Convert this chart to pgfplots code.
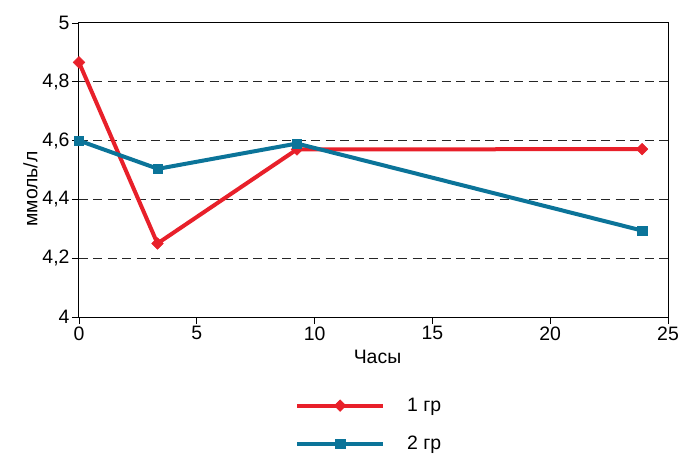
\documentclass[border=0pt]{standalone}
\usepackage{pgfplots}
\pgfplotsset{compat=1.18}
\usepackage{fontspec}
\setmainfont{Liberation Sans}
\definecolor{cred}{HTML}{E8202A}
\definecolor{cblue}{HTML}{0B7499}
\begin{document}
\begin{tikzpicture}
\useasboundingbox (-79bp,-137bp) rectangle (610bp,317bp);
\begin{axis}[
  scale only axis,
  width=589bp, height=294bp,
  at={(0,0)}, anchor=south west,
  xmin=0, xmax=25, ymin=4, ymax=5,
  xtick={0,5,...,25},
  ytick={4,4.2,4.4,4.6,4.8,5},
  tick align=outside,
  major tick length=7bp,
  tick style={black, line width=0.9bp},
  axis line style={black, line width=1bp},
  xtick pos=bottom, ytick pos=left,
  font=\fontsize{19.5}{23}\selectfont,
  /pgf/number format/assume math mode=true,
  yticklabel style={/pgf/number format/fixed, /pgf/number format/precision=1, /pgf/number format/use comma, xshift=1bp},
  xticklabel style={yshift=1bp},
  xlabel={Часы},
  ylabel={ммоль/л},
  xlabel style={yshift=-3bp, xshift=4bp},
  ylabel style={xshift=-19bp, yshift=-2bp},
  legend style={at={(0.3615,-0.262)}, anchor=north west, draw=none, fill=none,
    font=\fontsize{19.5}{23}\selectfont, row sep=19bp},
  legend cell align=left,
  legend image code/.code={
    \draw[mark repeat=2, mark phase=2] plot coordinates {(0bp,0bp) (43bp,0bp) (86bp,0bp)};
  },
  every axis legend/.append style={nodes={right, inner xsep=22bp}},
]
\foreach \yy in {4.2,4.4,4.6,4.8} {
  \edef\temp{\noexpand\draw[dash pattern=on 9bp off 5.5bp, line width=1.1bp, black!85] (axis cs:0,\yy) -- (axis cs:25,\yy);}
  \temp
}
\addplot[cred, line width=4bp, mark=square*, mark size=4.1bp, mark options={solid, rotate=45, line width=0.5bp}] coordinates {
  (0,4.866) (3.33,4.25) (9.25,4.57) (23.9,4.571)
};
\addlegendentry{1 гр}
\addplot[cblue, line width=4bp, mark=square*, mark size=4.7bp, mark options={solid, line width=0.5bp}] coordinates {
  (0,4.6) (3.35,4.504) (9.25,4.59) (23.9,4.294)
};
\addlegendentry{2 гр}
\end{axis}
\end{tikzpicture}
\end{document}
